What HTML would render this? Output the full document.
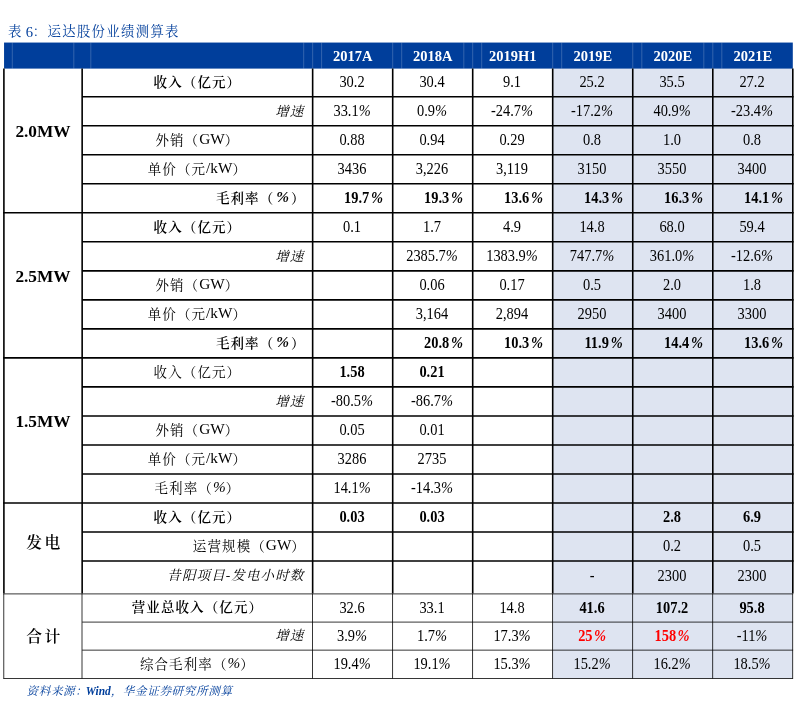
<!DOCTYPE html>
<html lang="zh-CN">
<head>
<meta charset="utf-8">
<title>表 6：运达股份业绩测算表</title>
<style>
html,body{margin:0;padding:0;background:#fff;}
body{width:801px;height:707px;position:relative;overflow:hidden;
 font-family:"Liberation Serif","Noto Serif CJK SC",serif;color:#000;}
.abs{position:absolute;}
svg.grid{position:absolute;left:0;top:0;}
#txt{position:absolute;left:0;top:0;width:801px;height:707px;will-change:transform;}
.title{left:8px;top:21.1px;font-size:13.4px;line-height:20px;color:#003e9b;letter-spacing:1.3px;white-space:nowrap;}
.title b{font-weight:normal;letter-spacing:0;font-size:14.6px;margin-left:-1.6px;margin-right:-.2px;position:relative;top:.8px;}
.src{left:26.5px;top:680.8px;font-size:11.6px;line-height:20px;color:#003e9b;font-style:italic;letter-spacing:.6px;white-space:nowrap;}
.src b{letter-spacing:0;font-size:12.2px;display:inline-block;transform:scaleX(.94);margin:0 -1.5px 0 -2px;}
.cell{display:flex;align-items:center;justify-content:center;white-space:nowrap;font-size:16px;box-sizing:border-box;}
.v{transform:scaleX(.9);}
.v i{font-style:italic;}
.yr{color:#fff;font-weight:bold;font-size:14.5px;}
.sec{font-weight:bold;font-size:17.3px;align-items:flex-start;}
.sec.cjk{font-size:15.8px;letter-spacing:2.4px;font-weight:600;}
.lab{font-size:13.5px;letter-spacing:1.1px;}
.lab i{font-style:normal;font-size:15.3px;letter-spacing:0;}
.lab i.p{font-style:italic;}
.lab.b i.p{margin:0 2px;}
.v.b i{margin-left:2px;}
.lab.r{justify-content:flex-end;padding-right:6.7px;}
.lab.r.i{padding-right:8.3px;}
.lab.r.b{padding-right:7px;}
.lab.b{font-weight:600;}
.lab.i{font-style:italic;}
.v.b{font-weight:bold;}
.red{color:#f00;font-weight:bold;}
.red i{margin-left:1.5px;}
</style>
</head>
<body>
<svg class="grid" width="801" height="707" viewBox="0 0 801 707">
<rect x="552.7" y="68.1" width="240.1" height="610.3" fill="#dee4f1"/>
<rect x="4.05" y="42.55" width="788.75" height="26.05" fill="#003e9b"/>
<g stroke="#fff" stroke-opacity=".2" stroke-width="1">
<line x1="12.3" y1="42.55" x2="12.3" y2="68.6"/><line x1="73.8" y1="42.55" x2="73.8" y2="68.6"/><line x1="90.8" y1="42.55" x2="90.8" y2="68.6"/><line x1="303.7" y1="42.55" x2="303.7" y2="68.6"/><line x1="312.65" y1="42.55" x2="312.65" y2="68.6"/><line x1="321.6" y1="42.55" x2="321.6" y2="68.6"/><line x1="392.7" y1="42.55" x2="392.7" y2="68.6"/><line x1="401.7" y1="42.55" x2="401.7" y2="68.6"/><line x1="463.8" y1="42.55" x2="463.8" y2="68.6"/><line x1="472.7" y1="42.55" x2="472.7" y2="68.6"/><line x1="481.7" y1="42.55" x2="481.7" y2="68.6"/><line x1="552.7" y1="42.55" x2="552.7" y2="68.6"/><line x1="561.7" y1="42.55" x2="561.7" y2="68.6"/><line x1="632.75" y1="42.55" x2="632.75" y2="68.6"/><line x1="641.8" y1="42.55" x2="641.8" y2="68.6"/><line x1="703.8" y1="42.55" x2="703.8" y2="68.6"/><line x1="712.8" y1="42.55" x2="712.8" y2="68.6"/><line x1="721.8" y1="42.55" x2="721.8" y2="68.6"/>
</g>
<g stroke="#000" stroke-width="1.6" stroke-linecap="butt">
<line x1="3.9" y1="68.6" x2="3.9" y2="593.45"/><line x1="82.15" y1="68.6" x2="82.15" y2="593.45"/><line x1="312.65" y1="68.6" x2="312.65" y2="593.45"/><line x1="392.7" y1="68.6" x2="392.7" y2="593.45"/><line x1="472.7" y1="68.6" x2="472.7" y2="593.45"/><line x1="552.7" y1="68.6" x2="552.7" y2="593.45"/><line x1="632.75" y1="68.6" x2="632.75" y2="593.45"/><line x1="712.8" y1="68.6" x2="712.8" y2="593.45"/><line x1="792.8" y1="68.6" x2="792.8" y2="593.45"/><line x1="82.15" y1="96.72" x2="793.6" y2="96.72"/><line x1="82.15" y1="125.74" x2="793.6" y2="125.74"/><line x1="82.15" y1="154.76" x2="793.6" y2="154.76"/><line x1="82.15" y1="183.78" x2="793.6" y2="183.78"/><line x1="3.1" y1="212.8" x2="793.6" y2="212.8"/><line x1="82.15" y1="241.82" x2="793.6" y2="241.82"/><line x1="82.15" y1="270.84" x2="793.6" y2="270.84"/><line x1="82.15" y1="299.86" x2="793.6" y2="299.86"/><line x1="82.15" y1="328.88" x2="793.6" y2="328.88"/><line x1="3.1" y1="357.9" x2="793.6" y2="357.9"/><line x1="82.15" y1="386.92" x2="793.6" y2="386.92"/><line x1="82.15" y1="415.94" x2="793.6" y2="415.94"/><line x1="82.15" y1="444.96" x2="793.6" y2="444.96"/><line x1="82.15" y1="473.98" x2="793.6" y2="473.98"/><line x1="3.1" y1="503" x2="793.6" y2="503"/><line x1="82.15" y1="532.02" x2="793.6" y2="532.02"/><line x1="82.15" y1="561.04" x2="793.6" y2="561.04"/>
</g>
<g stroke="#000" stroke-opacity=".88" stroke-width=".9">
<line x1="3.75" y1="593.75" x2="3.75" y2="678.5"/><line x1="82" y1="593.75" x2="82" y2="678.5"/><line x1="312.5" y1="593.75" x2="312.5" y2="678.5"/><line x1="392.55" y1="593.75" x2="392.55" y2="678.5"/><line x1="472.55" y1="593.75" x2="472.55" y2="678.5"/><line x1="552.55" y1="593.75" x2="552.55" y2="678.5"/><line x1="632.6" y1="593.75" x2="632.6" y2="678.5"/><line x1="712.65" y1="593.75" x2="712.65" y2="678.5"/><line x1="792.65" y1="593.75" x2="792.65" y2="678.5"/><line x1="3.3" y1="593.9" x2="793.1" y2="593.9"/><line x1="82.15" y1="622.1" x2="793.1" y2="622.1"/><line x1="82.15" y1="650.15" x2="793.1" y2="650.15"/><line x1="3.3" y1="678.5" x2="793.1" y2="678.5"/>
</g>
</svg>
<div id="txt">
<div class="abs title">表 <b>6</b>：运达股份业绩测算表</div>
<div class="abs cell yr" style="left:312.65px;top:43.4px;width:80.05px;height:26.05px;">2017A</div>
<div class="abs cell yr" style="left:392.7px;top:43.4px;width:80px;height:26.05px;">2018A</div>
<div class="abs cell yr" style="left:472.7px;top:43.4px;width:80px;height:26.05px;">2019H1</div>
<div class="abs cell yr" style="left:552.7px;top:43.4px;width:80.05px;height:26.05px;">2019E</div>
<div class="abs cell yr" style="left:632.75px;top:43.4px;width:80.05px;height:26.05px;">2020E</div>
<div class="abs cell yr" style="left:712.8px;top:43.4px;width:80px;height:26.05px;">2021E</div>
<div class="abs cell sec lat" style="left:3.9px;top:68.6px;width:78.25px;height:144.2px;padding-top:53.4px;">2.0MW</div>
<div class="abs cell lab b" style="left:82.15px;top:66px;width:230.5px;height:29.02px;">收入（亿元）</div>
<div class="abs cell v" style="left:312.25px;top:67.5px;width:80.05px;height:29.02px;">30.2</div>
<div class="abs cell v" style="left:392.3px;top:67.5px;width:80px;height:29.02px;">30.4</div>
<div class="abs cell v" style="left:472.3px;top:67.5px;width:80px;height:29.02px;">9.1</div>
<div class="abs cell v" style="left:552.3px;top:67.5px;width:80.05px;height:29.02px;">25.2</div>
<div class="abs cell v" style="left:632.35px;top:67.5px;width:80.05px;height:29.02px;">35.5</div>
<div class="abs cell v" style="left:712.4px;top:67.5px;width:80px;height:29.02px;">27.2</div>
<div class="abs cell lab r i" style="left:82.15px;top:95.02px;width:230.5px;height:29.02px;">增速</div>
<div class="abs cell v" style="left:312.25px;top:96.52px;width:80.05px;height:29.02px;">33.1<i>%</i></div>
<div class="abs cell v" style="left:392.3px;top:96.52px;width:80px;height:29.02px;">0.9<i>%</i></div>
<div class="abs cell v" style="left:472.3px;top:96.52px;width:80px;height:29.02px;">-24.7<i>%</i></div>
<div class="abs cell v" style="left:552.3px;top:96.52px;width:80.05px;height:29.02px;">-17.2<i>%</i></div>
<div class="abs cell v" style="left:632.35px;top:96.52px;width:80.05px;height:29.02px;">40.9<i>%</i></div>
<div class="abs cell v" style="left:712.4px;top:96.52px;width:80px;height:29.02px;">-23.4<i>%</i></div>
<div class="abs cell lab" style="left:82.15px;top:124.04px;width:230.5px;height:29.02px;">外销（<i>GW</i>）</div>
<div class="abs cell v" style="left:312.25px;top:125.54px;width:80.05px;height:29.02px;">0.88</div>
<div class="abs cell v" style="left:392.3px;top:125.54px;width:80px;height:29.02px;">0.94</div>
<div class="abs cell v" style="left:472.3px;top:125.54px;width:80px;height:29.02px;">0.29</div>
<div class="abs cell v" style="left:552.3px;top:125.54px;width:80.05px;height:29.02px;">0.8</div>
<div class="abs cell v" style="left:632.35px;top:125.54px;width:80.05px;height:29.02px;">1.0</div>
<div class="abs cell v" style="left:712.4px;top:125.54px;width:80px;height:29.02px;">0.8</div>
<div class="abs cell lab" style="left:82.15px;top:153.06px;width:230.5px;height:29.02px;">单价（元<i>/kW</i>）</div>
<div class="abs cell v" style="left:312.25px;top:154.56px;width:80.05px;height:29.02px;">3436</div>
<div class="abs cell v" style="left:392.3px;top:154.56px;width:80px;height:29.02px;">3,226</div>
<div class="abs cell v" style="left:472.3px;top:154.56px;width:80px;height:29.02px;">3,119</div>
<div class="abs cell v" style="left:552.3px;top:154.56px;width:80.05px;height:29.02px;">3150</div>
<div class="abs cell v" style="left:632.35px;top:154.56px;width:80.05px;height:29.02px;">3550</div>
<div class="abs cell v" style="left:712.4px;top:154.56px;width:80px;height:29.02px;">3400</div>
<div class="abs cell lab r b" style="left:82.15px;top:182.08px;width:230.5px;height:29.02px;">毛利率（<i class='p'>%</i>）</div>
<div class="abs cell v b" style="left:312.25px;top:183.58px;width:80.05px;height:29.02px;padding-left:25.6px;">19.7<i>%</i></div>
<div class="abs cell v b" style="left:392.3px;top:183.58px;width:80px;height:29.02px;padding-left:25.6px;">19.3<i>%</i></div>
<div class="abs cell v b" style="left:472.3px;top:183.58px;width:80px;height:29.02px;padding-left:25.6px;">13.6<i>%</i></div>
<div class="abs cell v b" style="left:552.3px;top:183.58px;width:80.05px;height:29.02px;padding-left:25.6px;">14.3<i>%</i></div>
<div class="abs cell v b" style="left:632.35px;top:183.58px;width:80.05px;height:29.02px;padding-left:25.6px;">16.3<i>%</i></div>
<div class="abs cell v b" style="left:712.4px;top:183.58px;width:80px;height:29.02px;padding-left:25.6px;">14.1<i>%</i></div>
<div class="abs cell sec lat" style="left:3.9px;top:212.8px;width:78.25px;height:145.1px;padding-top:53.85px;">2.5MW</div>
<div class="abs cell lab b" style="left:82.15px;top:211.1px;width:230.5px;height:29.02px;">收入（亿元）</div>
<div class="abs cell v" style="left:312.25px;top:212.6px;width:80.05px;height:29.02px;">0.1</div>
<div class="abs cell v" style="left:392.3px;top:212.6px;width:80px;height:29.02px;">1.7</div>
<div class="abs cell v" style="left:472.3px;top:212.6px;width:80px;height:29.02px;">4.9</div>
<div class="abs cell v" style="left:552.3px;top:212.6px;width:80.05px;height:29.02px;">14.8</div>
<div class="abs cell v" style="left:632.35px;top:212.6px;width:80.05px;height:29.02px;">68.0</div>
<div class="abs cell v" style="left:712.4px;top:212.6px;width:80px;height:29.02px;">59.4</div>
<div class="abs cell lab r i" style="left:82.15px;top:240.12px;width:230.5px;height:29.02px;">增速</div>
<div class="abs cell v" style="left:392.3px;top:241.62px;width:80px;height:29.02px;">2385.7<i>%</i></div>
<div class="abs cell v" style="left:472.3px;top:241.62px;width:80px;height:29.02px;">1383.9<i>%</i></div>
<div class="abs cell v" style="left:552.3px;top:241.62px;width:80.05px;height:29.02px;">747.7<i>%</i></div>
<div class="abs cell v" style="left:632.35px;top:241.62px;width:80.05px;height:29.02px;">361.0<i>%</i></div>
<div class="abs cell v" style="left:712.4px;top:241.62px;width:80px;height:29.02px;">-12.6<i>%</i></div>
<div class="abs cell lab" style="left:82.15px;top:269.14px;width:230.5px;height:29.02px;">外销（<i>GW</i>）</div>
<div class="abs cell v" style="left:392.3px;top:270.64px;width:80px;height:29.02px;">0.06</div>
<div class="abs cell v" style="left:472.3px;top:270.64px;width:80px;height:29.02px;">0.17</div>
<div class="abs cell v" style="left:552.3px;top:270.64px;width:80.05px;height:29.02px;">0.5</div>
<div class="abs cell v" style="left:632.35px;top:270.64px;width:80.05px;height:29.02px;">2.0</div>
<div class="abs cell v" style="left:712.4px;top:270.64px;width:80px;height:29.02px;">1.8</div>
<div class="abs cell lab" style="left:82.15px;top:298.16px;width:230.5px;height:29.02px;">单价（元<i>/kW</i>）</div>
<div class="abs cell v" style="left:392.3px;top:299.66px;width:80px;height:29.02px;">3,164</div>
<div class="abs cell v" style="left:472.3px;top:299.66px;width:80px;height:29.02px;">2,894</div>
<div class="abs cell v" style="left:552.3px;top:299.66px;width:80.05px;height:29.02px;">2950</div>
<div class="abs cell v" style="left:632.35px;top:299.66px;width:80.05px;height:29.02px;">3400</div>
<div class="abs cell v" style="left:712.4px;top:299.66px;width:80px;height:29.02px;">3300</div>
<div class="abs cell lab r b" style="left:82.15px;top:327.18px;width:230.5px;height:29.02px;">毛利率（<i class='p'>%</i>）</div>
<div class="abs cell v b" style="left:392.3px;top:328.68px;width:80px;height:29.02px;padding-left:25.6px;">20.8<i>%</i></div>
<div class="abs cell v b" style="left:472.3px;top:328.68px;width:80px;height:29.02px;padding-left:25.6px;">10.3<i>%</i></div>
<div class="abs cell v b" style="left:552.3px;top:328.68px;width:80.05px;height:29.02px;padding-left:25.6px;">11.9<i>%</i></div>
<div class="abs cell v b" style="left:632.35px;top:328.68px;width:80.05px;height:29.02px;padding-left:25.6px;">14.4<i>%</i></div>
<div class="abs cell v b" style="left:712.4px;top:328.68px;width:80px;height:29.02px;padding-left:25.6px;">13.6<i>%</i></div>
<div class="abs cell sec lat" style="left:3.9px;top:357.9px;width:78.25px;height:145.1px;padding-top:53.85px;">1.5MW</div>
<div class="abs cell lab" style="left:82.15px;top:356.2px;width:230.5px;height:29.02px;">收入（亿元）</div>
<div class="abs cell v b" style="left:312.25px;top:357.7px;width:80.05px;height:29.02px;">1.58</div>
<div class="abs cell v b" style="left:392.3px;top:357.7px;width:80px;height:29.02px;">0.21</div>
<div class="abs cell lab r i" style="left:82.15px;top:385.22px;width:230.5px;height:29.02px;">增速</div>
<div class="abs cell v" style="left:312.25px;top:386.72px;width:80.05px;height:29.02px;">-80.5<i>%</i></div>
<div class="abs cell v" style="left:392.3px;top:386.72px;width:80px;height:29.02px;">-86.7<i>%</i></div>
<div class="abs cell lab" style="left:82.15px;top:414.24px;width:230.5px;height:29.02px;">外销（<i>GW</i>）</div>
<div class="abs cell v" style="left:312.25px;top:415.74px;width:80.05px;height:29.02px;">0.05</div>
<div class="abs cell v" style="left:392.3px;top:415.74px;width:80px;height:29.02px;">0.01</div>
<div class="abs cell lab" style="left:82.15px;top:443.26px;width:230.5px;height:29.02px;">单价（元<i>/kW</i>）</div>
<div class="abs cell v" style="left:312.25px;top:444.76px;width:80.05px;height:29.02px;">3286</div>
<div class="abs cell v" style="left:392.3px;top:444.76px;width:80px;height:29.02px;">2735</div>
<div class="abs cell lab" style="left:82.15px;top:472.28px;width:230.5px;height:29.02px;">毛利率（<i class='p'>%</i>）</div>
<div class="abs cell v" style="left:312.25px;top:473.78px;width:80.05px;height:29.02px;">14.1<i>%</i></div>
<div class="abs cell v" style="left:392.3px;top:473.78px;width:80px;height:29.02px;">-14.3<i>%</i></div>
<div class="abs cell sec cjk" style="left:5.4px;top:503px;width:78.25px;height:90.75px;padding-top:27.38px;">发电</div>
<div class="abs cell lab b" style="left:82.15px;top:501.3px;width:230.5px;height:29.02px;">收入（亿元）</div>
<div class="abs cell v b" style="left:312.25px;top:502.8px;width:80.05px;height:29.02px;">0.03</div>
<div class="abs cell v b" style="left:392.3px;top:502.8px;width:80px;height:29.02px;">0.03</div>
<div class="abs cell v b" style="left:632.35px;top:502.8px;width:80.05px;height:29.02px;">2.8</div>
<div class="abs cell v b" style="left:712.4px;top:502.8px;width:80px;height:29.02px;">6.9</div>
<div class="abs cell lab r" style="left:82.15px;top:530.32px;width:230.5px;height:29.02px;">运营规模（<i>GW</i>）</div>
<div class="abs cell v" style="left:632.35px;top:531.82px;width:80.05px;height:29.02px;">0.2</div>
<div class="abs cell v" style="left:712.4px;top:531.82px;width:80px;height:29.02px;">0.5</div>
<div class="abs cell lab r i" style="left:82.15px;top:559.34px;width:230.5px;height:29.5px;">昔阳项目-发电小时数</div>
<div class="abs cell v" style="left:552.3px;top:560.84px;width:80.05px;height:29.5px;">-</div>
<div class="abs cell v" style="left:632.35px;top:560.84px;width:80.05px;height:29.5px;">2300</div>
<div class="abs cell v" style="left:712.4px;top:560.84px;width:80px;height:29.5px;">2300</div>
<div class="abs cell sec cjk" style="left:5.4px;top:593.75px;width:78.25px;height:84.65px;padding-top:30.62px;">合计</div>
<div class="abs cell lab b" style="left:82.15px;top:592.05px;width:230.5px;height:28.4px;">营业总收入（亿元）</div>
<div class="abs cell v" style="left:312.25px;top:593.55px;width:80.05px;height:28.4px;">32.6</div>
<div class="abs cell v" style="left:392.3px;top:593.55px;width:80px;height:28.4px;">33.1</div>
<div class="abs cell v" style="left:472.3px;top:593.55px;width:80px;height:28.4px;">14.8</div>
<div class="abs cell v" style="left:552.3px;top:593.55px;width:80.05px;height:28.4px;"><b>41.6</b></div>
<div class="abs cell v" style="left:632.35px;top:593.55px;width:80.05px;height:28.4px;"><b>107.2</b></div>
<div class="abs cell v" style="left:712.4px;top:593.55px;width:80px;height:28.4px;"><b>95.8</b></div>
<div class="abs cell lab r i" style="left:82.15px;top:620.45px;width:230.5px;height:28.05px;">增速</div>
<div class="abs cell v" style="left:312.25px;top:621.95px;width:80.05px;height:28.05px;">3.9<i>%</i></div>
<div class="abs cell v" style="left:392.3px;top:621.95px;width:80px;height:28.05px;">1.7<i>%</i></div>
<div class="abs cell v" style="left:472.3px;top:621.95px;width:80px;height:28.05px;">17.3<i>%</i></div>
<div class="abs cell v" style="left:552.3px;top:621.95px;width:80.05px;height:28.05px;"><span class='red'>25<i>%</i></span></div>
<div class="abs cell v" style="left:632.35px;top:621.95px;width:80.05px;height:28.05px;"><span class='red'>158<i>%</i></span></div>
<div class="abs cell v" style="left:712.4px;top:621.95px;width:80px;height:28.05px;">-11<i>%</i></div>
<div class="abs cell lab" style="left:82.15px;top:648.5px;width:230.5px;height:28.2px;">综合毛利率（<i class='p'>%</i>）</div>
<div class="abs cell v" style="left:312.25px;top:650px;width:80.05px;height:28.2px;">19.4<i>%</i></div>
<div class="abs cell v" style="left:392.3px;top:650px;width:80px;height:28.2px;">19.1<i>%</i></div>
<div class="abs cell v" style="left:472.3px;top:650px;width:80px;height:28.2px;">15.3<i>%</i></div>
<div class="abs cell v" style="left:552.3px;top:650px;width:80.05px;height:28.2px;">15.2<i>%</i></div>
<div class="abs cell v" style="left:632.35px;top:650px;width:80.05px;height:28.2px;">16.2<i>%</i></div>
<div class="abs cell v" style="left:712.4px;top:650px;width:80px;height:28.2px;">18.5<i>%</i></div>
<div class="abs src">资料来源：<b>Wind</b>，华金证券研究所测算</div>
</div>
</body>
</html>
